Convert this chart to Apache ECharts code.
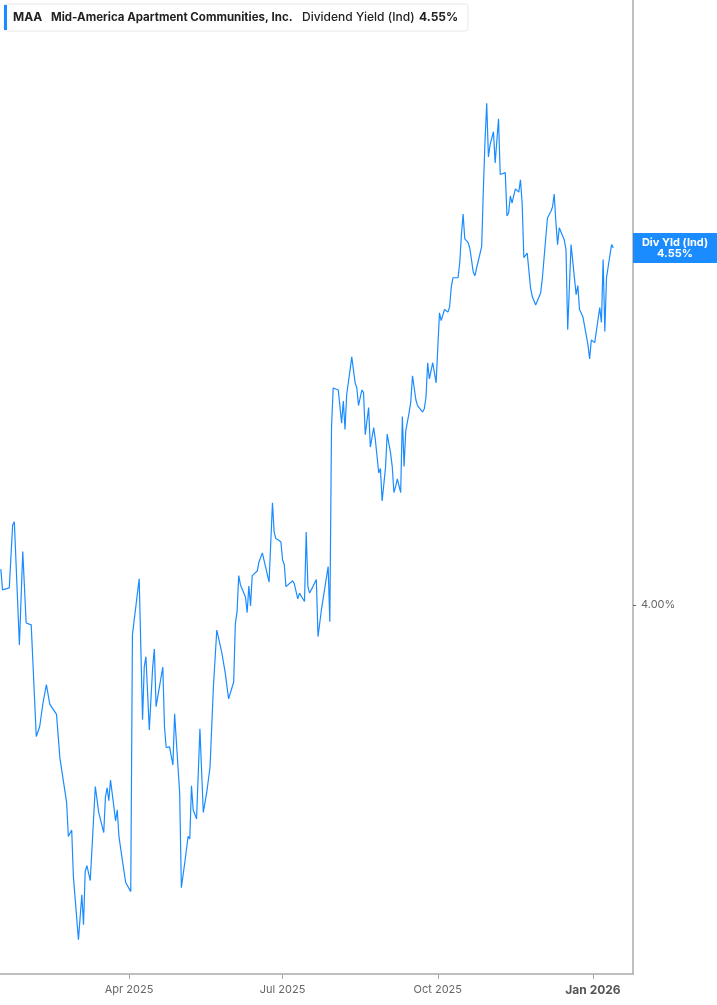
<!DOCTYPE html>
<html>
<head>
<meta charset="utf-8">
<title>MAA Dividend Yield (Ind)</title>
<script src="https://cdn.jsdelivr.net/npm/echarts@6/dist/echarts.min.js"></script>
<style>
  html, body { margin: 0; padding: 0; background: #fff; }
  #grafico { width: 717px; height: 1005px; }
</style>
</head>
<body>
<div id="grafico"></div>
<script>
// Dados
const datas = [
    '2025-01-15', '2025-01-16', '2025-01-17', '2025-01-20', '2025-01-22', '2025-01-23', '2025-01-26', '2025-01-28',
    '2025-01-30', '2025-01-31', '2025-02-02', '2025-02-05', '2025-02-07', '2025-02-09', '2025-02-11', '2025-02-13',
    '2025-02-14', '2025-02-17', '2025-02-18', '2025-02-19', '2025-02-23', '2025-02-24', '2025-02-26', '2025-02-27',
    '2025-03-02', '2025-03-04', '2025-03-05', '2025-03-06', '2025-03-07', '2025-03-09', '2025-03-12', '2025-03-13',
    '2025-03-14', '2025-03-17', '2025-03-18', '2025-03-19', '2025-03-20', '2025-03-21', '2025-03-23', '2025-03-24',
    '2025-03-25', '2025-03-26', '2025-03-28', '2025-03-30', '2025-03-31', '2025-04-02', '2025-04-03', '2025-04-07',
    '2025-04-09', '2025-04-10', '2025-04-11', '2025-04-13', '2025-04-15', '2025-04-16', '2025-04-17', '2025-04-21',
    '2025-04-22', '2025-04-23', '2025-04-25', '2025-04-27', '2025-04-28', '2025-05-01', '2025-05-02', '2025-05-04',
    '2025-05-06', '2025-05-07', '2025-05-08', '2025-05-09', '2025-05-11', '2025-05-13', '2025-05-15', '2025-05-17',
    '2025-05-19', '2025-05-21', '2025-05-23', '2025-05-26', '2025-05-28', '2025-05-30', '2025-06-02', '2025-06-03',
    '2025-06-04', '2025-06-05', '2025-06-06', '2025-06-09', '2025-06-10', '2025-06-11', '2025-06-12', '2025-06-13',
    '2025-06-16', '2025-06-17', '2025-06-19', '2025-06-23', '2025-06-25', '2025-06-26', '2025-06-27', '2025-06-30',
    '2025-07-01', '2025-07-02', '2025-07-03', '2025-07-04', '2025-07-07', '2025-07-08', '2025-07-10', '2025-07-11',
    '2025-07-14', '2025-07-15', '2025-07-16', '2025-07-17', '2025-07-19', '2025-07-21', '2025-07-22', '2025-07-24',
    '2025-07-25', '2025-07-28', '2025-07-29', '2025-07-30', '2025-07-31', '2025-08-03', '2025-08-05', '2025-08-06',
    '2025-08-07', '2025-08-08', '2025-08-10', '2025-08-11', '2025-08-12', '2025-08-13', '2025-08-14', '2025-08-15',
    '2025-08-17', '2025-08-18', '2025-08-19', '2025-08-20', '2025-08-21', '2025-08-22', '2025-08-24', '2025-08-25',
    '2025-08-27', '2025-08-28', '2025-08-29', '2025-08-31', '2025-09-01', '2025-09-03', '2025-09-04', '2025-09-05',
    '2025-09-06', '2025-09-07', '2025-09-09', '2025-09-10', '2025-09-11', '2025-09-12', '2025-09-14', '2025-09-15',
    '2025-09-16', '2025-09-17', '2025-09-18', '2025-09-19', '2025-09-22', '2025-09-23', '2025-09-24', '2025-09-25',
    '2025-09-26', '2025-09-28', '2025-09-30', '2025-10-02', '2025-10-03', '2025-10-05', '2025-10-06', '2025-10-07',
    '2025-10-08', '2025-10-09', '2025-10-10', '2025-10-13', '2025-10-14', '2025-10-15', '2025-10-16', '2025-10-17',
    '2025-10-19', '2025-10-20', '2025-10-22', '2025-10-23', '2025-10-24', '2025-10-27', '2025-10-28', '2025-10-29',
    '2025-10-30', '2025-10-31', '2025-11-01', '2025-11-03', '2025-11-04', '2025-11-06', '2025-11-07', '2025-11-10',
    '2025-11-11', '2025-11-12', '2025-11-13', '2025-11-14', '2025-11-15', '2025-11-16', '2025-11-18', '2025-11-19',
    '2025-11-20', '2025-11-21', '2025-11-23', '2025-11-25', '2025-11-26', '2025-11-28', '2025-11-29', '2025-12-01',
    '2025-12-02', '2025-12-05', '2025-12-07', '2025-12-08', '2025-12-09', '2025-12-10', '2025-12-11', '2025-12-12',
    '2025-12-15', '2025-12-16', '2025-12-17', '2025-12-19', '2025-12-22', '2025-12-23', '2025-12-24', '2025-12-26',
    '2025-12-29', '2025-12-30', '2025-12-31', '2026-01-02', '2026-01-05', '2026-01-06', '2026-01-07', '2026-01-08',
    '2026-01-09', '2026-01-12', '2026-01-13'
];

const rendimento = [
    4.055, 4.023, 4.026, 4.026, 4.123, 4.128, 3.938, 4.082,
    3.972, 3.969, 3.969, 3.797, 3.812, 3.849, 3.877, 3.847,
    3.844, 3.831, 3.834, 3.764, 3.695, 3.643, 3.653, 3.581,
    3.484, 3.553, 3.507, 3.589, 3.598, 3.575, 3.720, 3.720,
    3.680, 3.649, 3.704, 3.718, 3.698, 3.730, 3.689, 3.667,
    3.684, 3.643, 3.607, 3.572, 3.569, 3.558, 3.954, 4.040,
    3.823, 3.904, 3.920, 3.807, 3.904, 3.932, 3.843, 3.904,
    3.812, 3.780, 3.781, 3.753, 3.832, 3.710, 3.564, 3.602,
    3.643, 3.639, 3.721, 3.684, 3.670, 3.809, 3.680, 3.710,
    3.750, 3.874, 3.961, 3.926, 3.895, 3.855, 3.881, 3.971,
    3.989, 4.045, 4.031, 4.012, 3.988, 4.029, 3.998, 4.045,
    4.052, 4.066, 4.080, 4.035, 4.157, 4.112, 4.102, 4.097,
    4.069, 4.062, 4.028, 4.031, 4.037, 4.032, 4.009, 4.018,
    4.005, 4.112, 4.028, 4.018, 4.028, 4.039, 3.951, 3.992,
    3.995, 4.059, 3.974, 4.274, 4.334, 4.331, 4.280, 4.314,
    4.270, 4.324, 4.362, 4.382, 4.384, 4.342, 4.334, 4.307,
    4.331, 4.327, 4.262, 4.263, 4.304, 4.243, 4.273, 4.254,
    4.203, 4.210, 4.160, 4.211, 4.263, 4.234, 4.213, 4.173,
    4.182, 4.194, 4.173, 4.290, 4.213, 4.268, 4.296, 4.313,
    4.353, 4.350, 4.316, 4.307, 4.297, 4.302, 4.320, 4.373,
    4.348, 4.373, 4.342, 4.450, 4.438, 4.455, 4.458, 4.451,
    4.459, 4.490, 4.504, 4.504, 4.527, 4.570, 4.602, 4.564,
    4.558, 4.549, 4.513, 4.507, 4.519, 4.552, 4.639, 4.716,
    4.773, 4.690, 4.709, 4.729, 4.681, 4.749, 4.663, 4.666,
    4.599, 4.604, 4.630, 4.619, 4.630, 4.641, 4.636, 4.655,
    4.619, 4.535, 4.542, 4.488, 4.475, 4.462, 4.468, 4.481,
    4.504, 4.596, 4.606, 4.613, 4.633, 4.590, 4.555, 4.581,
    4.562, 4.547, 4.424, 4.555, 4.478, 4.492, 4.455, 4.444,
    4.401, 4.379, 4.408, 4.404, 4.458, 4.435, 4.532, 4.421,
    4.504, 4.555, 4.550
];

const marcasX = ['2025-04-01', '2025-07-01', '2025-10-01', '2026-01-01'];
const rotulosX = ['Apr 2025', 'Jul 2025', 'Oct 2025', 'Jan 2026'];
const marcasY = [4.0];
const valorAtual = 4.55;

const azul = '#1a8cff';
const fonte = 'Inter, Roboto, "Noto Sans", sans-serif';

// Eixo X em milissegundos (UTC)
const inicioX = Date.parse('2025-01-14T12:00:00Z');
const fimX = Date.parse('2026-01-24T17:00:00Z');
const marcasXms = marcasX.map(d => Date.parse(d));

var chartDom = document.getElementById('grafico');
var myChart = echarts.init(chartDom);

var option = {
    animation: false,
    grid: {
        left: 0,
        right: 84,
        top: 0,
        bottom: 31
    },
    xAxis: {
        type: 'value',
        min: inicioX,
        max: fimX,
        axisLine: { show: true, lineStyle: { color: '#aaaaaa', width: 1.5 } },
        axisTick: {
            show: true,
            length: 5,
            customValues: marcasXms,
            lineStyle: { color: '#aaaaaa' }
        },
        axisLabel: {
            customValues: marcasXms,
            margin: 10,
            fontFamily: fonte,
            fontSize: 11,
            color: '#666666',
            formatter: function (v) {
                const i = marcasXms.indexOf(v);
                if (i < 0) return '';
                return i === marcasXms.length - 1 ? '{b|' + rotulosX[i] + '}' : rotulosX[i];
            },
            rich: {
                b: { fontFamily: fonte, fontSize: 12, fontWeight: 'bold', color: '#555555' }
            }
        },
        splitLine: { show: false }
    },
    yAxis: {
        type: 'value',
        position: 'right',
        min: 3.431,
        max: 4.932,
        axisLine: { show: true, lineStyle: { color: '#aaaaaa', width: 1.5 } },
        axisTick: {
            show: true,
            length: 3,
            customValues: marcasY,
            lineStyle: { color: '#666666' }
        },
        axisLabel: {
            customValues: marcasY,
            margin: 8,
            fontFamily: fonte,
            fontSize: 11,
            color: '#666666',
            formatter: v => v.toFixed(2) + '%'
        },
        splitLine: { show: false }
    },
    series: [
        {
            name: 'Dividend Yield (Ind)',
            type: 'line',
            data: datas.map((d, i) => [Date.parse(d), rendimento[i]]),
            showSymbol: false,
            symbol: 'none',
            lineStyle: { color: azul, width: 1.2 },
            itemStyle: { color: azul }
        }
    ]
};

option && myChart.setOption(option);

// Caixa de legenda e rótulo do valor atual
var yAtual = myChart.convertToPixel({ yAxisIndex: 0 }, valorAtual);
var xEixo = myChart.convertToPixel({ xAxisIndex: 0 }, fimX);

myChart.setOption({
    graphic: [
        {
            type: 'rect',
            shape: { x: 4, y: 4, width: 464, height: 27, r: 3 },
            style: { fill: '#ffffff', stroke: '#e8e8e8', lineWidth: 1 },
            z: 100
        },
        {
            type: 'rect',
            shape: { x: 4, y: 5, width: 3, height: 25 },
            style: { fill: azul },
            z: 101
        },
        {
            type: 'text',
            x: 13, y: 17.5,
            style: { text: 'MAA', fontFamily: fonte, fontSize: 12, fontWeight: 'bold', fill: '#222222', verticalAlign: 'middle' },
            z: 101
        },
        {
            type: 'text',
            x: 51, y: 17.5,
            style: { text: 'Mid-America Apartment Communities, Inc.', fontFamily: fonte, fontSize: 11.5, fontWeight: 'bold', fill: '#222222', verticalAlign: 'middle' },
            z: 101
        },
        {
            type: 'text',
            x: 302, y: 17.5,
            style: { text: 'Dividend Yield (Ind)', fontFamily: fonte, fontSize: 12, fontWeight: 500, fill: '#222222', verticalAlign: 'middle' },
            z: 101
        },
        {
            type: 'text',
            x: 419, y: 17.5,
            style: { text: valorAtual.toFixed(2) + '%', fontFamily: fonte, fontSize: 12, fontWeight: 'bold', fill: '#222222', verticalAlign: 'middle' },
            z: 101
        },
        {
            type: 'rect',
            shape: { x: xEixo, y: yAtual - 15, width: 717 - xEixo, height: 30 },
            style: { fill: azul },
            z: 100
        },
        {
            type: 'text',
            x: (xEixo + 717) / 2, y: yAtual - 5.5,
            style: { text: 'Div Yld (Ind)', fontFamily: fonte, fontSize: 11, fontWeight: 'bold', fill: '#ffffff', align: 'center', verticalAlign: 'middle' },
            z: 101
        },
        {
            type: 'text',
            x: (xEixo + 717) / 2, y: yAtual + 6,
            style: { text: valorAtual.toFixed(2) + '%', fontFamily: fonte, fontSize: 11, fontWeight: 'bold', fill: '#ffffff', align: 'center', verticalAlign: 'middle' },
            z: 101
        }
    ]
});
</script>
</body>
</html>
